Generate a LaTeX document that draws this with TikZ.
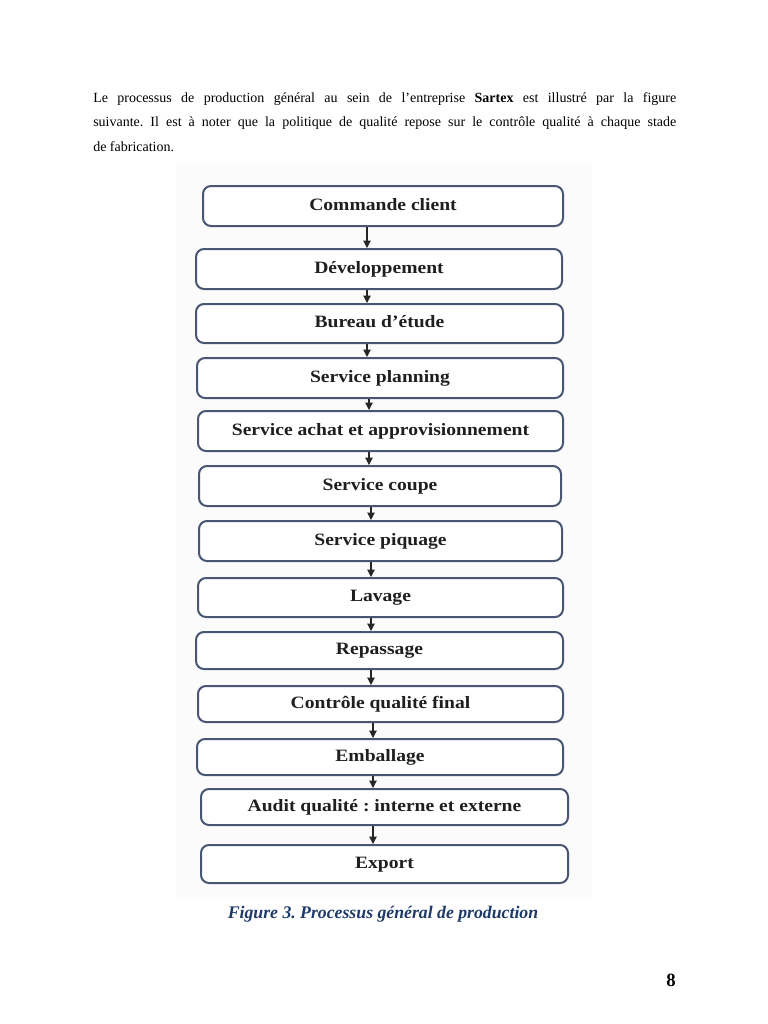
\documentclass[tikz,border=0pt]{standalone}
\usepackage{fontspec}
\setmainfont{Liberation Serif}
\newfontfamily\etapefamily{Liberation Serif}[FakeStretch=1.13]
\usetikzlibrary{arrows.meta}
\frenchspacing

\definecolor{boxline}{RGB}{72,86,116}
\definecolor{capblue}{RGB}{31,58,104}
\newcommand{\px}{0.75bp}

\tikzset{
  etape/.style={draw=boxline, line width=1.5bp, rounded corners=6bp, fill=white,
    inner sep=0pt, text=black!88, text height=10bp, text depth=4bp,
    font=\etapefamily\bfseries\fontsize{13bp}{15bp}\selectfont},
  fleche/.style={-{Triangle[length=5.5bp,width=5.5bp]}, line width=0.8bp, black!85}
}

\begin{document}
\begin{tikzpicture}[x=0.75bp,y=-0.75bp]%Processus general de production
\useasboundingbox (0,0) rectangle (768,1024);
\fill[black!1.5] (176,163) rectangle (592,897);
\node[anchor=base west, inner sep=0pt, text width=583*\px, align=justify,
  font=\fontsize{10.5bp}{18.4bp}\selectfont] (texte) at (93,102)
  {Le processus de production général au sein de l’entreprise \textbf{Sartex} est illustré par la figure\linebreak
   suivante. Il est à noter que la politique de qualité repose sur le contrôle qualité à chaque stade\linebreak
   de fabrication.};
\node[etape, minimum width=360*\px, minimum height=40*\px] (cmd) at (383,206){Commande client};
\node[etape, minimum width=366*\px, minimum height=40*\px] (dev) at (379,269){Développement};
\node[etape, minimum width=367*\px, minimum height=39*\px] (bur) at (379.5,323.5){Bureau d’étude};
\node[etape, minimum width=366*\px, minimum height=40*\px] (plan) at (380,378){Service planning};
\node[etape, minimum width=365*\px, minimum height=40*\px] (achat) at (380.5,431){Service achat et approvisionnement};
\node[etape, minimum width=362*\px, minimum height=40*\px] (coupe) at (380,486){Service coupe};
\node[etape, minimum width=363*\px, minimum height=40*\px] (piq) at (380.5,541){Service piquage};
\node[etape, minimum width=365*\px, minimum height=39*\px] (lav) at (380.5,597.5){Lavage};
\node[etape, minimum width=367*\px, minimum height=37*\px] (rep) at (379.5,650.5){Repassage};
\node[etape, minimum width=365*\px, minimum height=36*\px] (ctrl) at (380.5,704){Contrôle qualité final};
\node[etape, minimum width=366*\px, minimum height=36*\px] (emb) at (380,757){Emballage};
\node[etape, minimum width=367*\px, minimum height=36*\px] (audit) at (384.5,807){Audit qualité : interne et externe};
\node[etape, minimum width=367*\px, minimum height=38*\px] (exp) at (384.5,864){Export};
% fleches
\coordinate (x1) at (367,0);
\coordinate (x2) at (369,0);
\coordinate (x3) at (371,0);
\coordinate (x4) at (373,0);
\draw[fleche] (cmd.south -| x1) -- (dev.north -| x1);
\draw[fleche] (dev.south -| x1) -- (bur.north -| x1);
\draw[fleche] (bur.south -| x1) -- (plan.north -| x1);
\draw[fleche] (plan.south -| x2) -- (achat.north -| x2);
\draw[fleche] (achat.south -| x2) -- (coupe.north -| x2);
\draw[fleche] (coupe.south -| x3) -- (piq.north -| x3);
\draw[fleche] (piq.south -| x3) -- (lav.north -| x3);
\draw[fleche] (lav.south -| x3) -- (rep.north -| x3);
\draw[fleche] (rep.south -| x3) -- (ctrl.north -| x3);
\draw[fleche] (ctrl.south -| x4) -- (emb.north -| x4);
\draw[fleche] (emb.south -| x4) -- (audit.north -| x4);
\draw[fleche] (audit.south -| x4) -- (exp.north -| x4);
\node[font=\bfseries\itshape\fontsize{13.3bp}{16bp}\selectfont, text=capblue] (legende) at (383,914)
  {Figure 3. Processus général de production};
\node[font=\bfseries\fontsize{14bp}{16bp}\selectfont] (num) at (671,980){8};
\end{tikzpicture}
\end{document}
